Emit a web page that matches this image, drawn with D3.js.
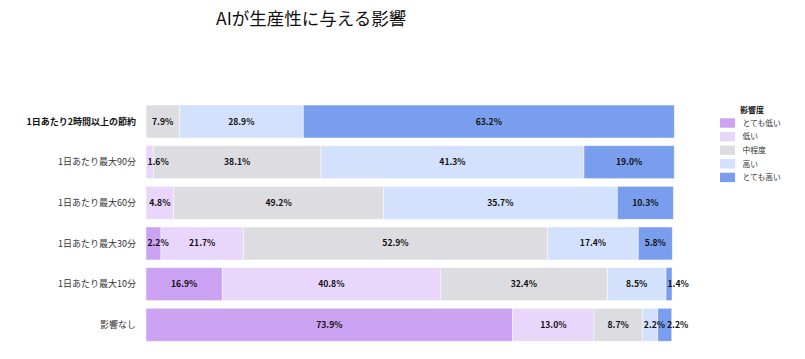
<!DOCTYPE html>
<html>
<head>
<meta charset="utf-8">
<script src="https://cdn.jsdelivr.net/npm/d3@7"></script>
<style>
  body { margin: 0; background: #fff; }
  text { font-family: "Noto Sans CJK JP", "Noto Sans", sans-serif; }
</style>
</head>
<body>
<div id="chart"></div>
<script>
// データ
const categories = ["1日あたり2時間以上の節約", "1日あたり最大90分", "1日あたり最大60分", "1日あたり最大30分", "1日あたり最大10分", "影響なし"]
const levels = ["とても低い", "低い", "中程度", "高い", "とても高い"]

// 棒の長さ（図から読み取った値、%）
const veryLow  = [0,     0,     0,     2.84,  14.45, 69.45]
const low      = [0,     1.38,  5.25,  15.59, 41.29, 15.40]
const medium   = [6.31,  31.76, 39.70, 57.65, 31.63, 9.15]
const high     = [23.48, 49.81, 44.32, 17.16, 11.12, 2.92]
const veryHigh = [70.27, 17.10, 10.61, 6.44,  1.14,  2.65]

// 表示されているラベル
const lblVeryLow  = [null,   null,   null,   "2.2%",  "16.9%", "73.9%"]
const lblLow      = [null,   "1.6%", "4.8%", "21.7%", "40.8%", "13.0%"]
const lblMedium   = ["7.9%", "38.1%", "49.2%", "52.9%", "32.4%", "8.7%"]
const lblHigh     = ["28.9%", "41.3%", "35.7%", "17.4%", "8.5%", "2.2%"]
const lblVeryHigh = ["63.2%", "19.0%", "10.3%", "5.8%", "1.4%", "2.2%"]

const colors = ["#cca3f3", "#e8d6fb", "#dddde1", "#d4e1fc", "#7a9eee"]

const width = 805
const height = 359

const svg = d3.select("#chart")
    .append("svg")
    .attr("width", width)
    .attr("height", height)

const series = [veryLow, low, medium, high, veryHigh]
const labels = [lblVeryLow, lblLow, lblMedium, lblHigh, lblVeryHigh]
const rows = categories.map((c, i) => {
    const r = { name: c }
    levels.forEach((l, j) => r[l] = series[j][i])
    return r
})

const stack = d3.stack().keys(levels)(rows)

const x = d3.scaleLinear().domain([0, 100]).range([146, 674])
const y = d3.scaleBand()
    .domain(categories)
    .range([101.2, 345.1])
    .paddingInner(0.188)
    .paddingOuter(0.094)

const color = d3.scaleOrdinal().domain(levels).range(colors)

// タイトル
svg.append("text")
    .attr("x", 216)
    .attr("y", 25)
    .attr("font-size", 17.5)
    .attr("fill", "#111")
    .text("AIが生産性に与える影響")

// 棒
const layers = svg.append("g").selectAll("g")
    .data(stack)
    .join("g")
    .attr("fill", d => color(d.key))

layers.selectAll("rect")
    .data(d => d.filter(s => s[1] - s[0] > 0))
    .join("rect")
    .attr("x", d => x(d[0]))
    .attr("y", d => y(d.data.name))
    .attr("width", d => x(d[1]) - x(d[0]))
    .attr("height", y.bandwidth())
    .attr("stroke", "#ffffff")
    .attr("stroke-opacity", 0.6)
    .attr("stroke-width", 0.8)

// 数値ラベル（狭い区間は左寄せ、重なりは右へずらす）
const labelGroup = svg.append("g")
categories.forEach((c, i) => {
    let lastRight = -Infinity
    levels.forEach((l, j) => {
        const s = stack[j][i]
        const txt = labels[j][i]
        if (!txt || s[1] - s[0] <= 0) return
        const t = labelGroup.append("text")
            .attr("y", y(c) + y.bandwidth() / 2)
            .attr("dy", "0.35em")
            .attr("font-family", "'Noto Sans', sans-serif")
            .attr("font-weight", "bold")
            .attr("font-size", 8.6)
            .attr("fill", "#111")
            .text(txt)
        const w = t.node().getComputedTextLength()
        const x0 = x(s[0]), x1 = x(s[1])
        let left = (x1 - x0) >= w + 2 ? (x0 + x1) / 2 - w / 2 : x0 + 1.5
        if (left < lastRight + 2) left = lastRight + 2
        t.attr("x", left)
        lastRight = left + w
    })
})

// カテゴリラベル
svg.append("g").selectAll("text")
    .data(categories)
    .join("text")
    .attr("x", 136)
    .attr("y", d => y(d) + y.bandwidth() / 2)
    .attr("dy", "0.35em")
    .attr("text-anchor", "end")
    .attr("font-size", 9)
    .attr("font-weight", (d, i) => i === 0 ? "bold" : "normal")
    .attr("fill", (d, i) => i === 0 ? "#111" : "#333")
    .text(d => d)

// 凡例
const legend = svg.append("g")
legend.append("text")
    .attr("x", 752)
    .attr("y", 113)
    .attr("text-anchor", "middle")
    .attr("font-size", 8)
    .attr("font-weight", "bold")
    .attr("fill", "#111")
    .text("影響度")

const items = legend.selectAll("g.item")
    .data(levels)
    .join("g")
    .attr("class", "item")
    .attr("transform", (d, i) => `translate(720, ${118.3 + i * 13.6})`)

items.append("rect")
    .attr("width", 15)
    .attr("height", 9.4)
    .attr("fill", d => color(d))

items.append("text")
    .attr("x", 22.5)
    .attr("y", 4.7)
    .attr("dy", "0.35em")
    .attr("font-size", 7.8)
    .attr("fill", "#333")
    .text(d => d)
</script>
</body>
</html>
